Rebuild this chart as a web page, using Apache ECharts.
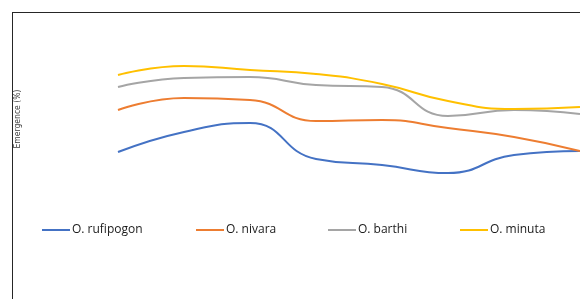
<!DOCTYPE html>
<html>
<head>
<meta charset="utf-8">
<script src="https://cdn.jsdelivr.net/npm/echarts@6/dist/echarts.min.js"></script>
<style>
  html, body { margin: 0; padding: 0; background: #fff; }
  #wrap { position: relative; width: 580px; height: 299px; overflow: hidden; }
  #frame {
    position: absolute; left: 12px; top: 12px; right: -2px; bottom: -2px;
    border-left: 1px solid #262626; border-top: 1px solid #262626;
  }
  #chart { position: absolute; left: 0; top: 0; width: 580px; height: 299px; }
</style>
</head>
<body>
<div id="wrap">
  <div id="frame"></div>
  <div id="chart"></div>
</div>
<script>
// sampling points (axis labels are cut off in the source)
var categories = ["1", "2", "3", "4", "5", "6", "7", "8"];

// emergence (%)
var rufipogon = [25.3, 38.7, 44.7, 20.7, 16.7, 11.3, 23.3, 26];
var nivara = [53.3, 61.3, 60, 46, 46.7, 41.3, 35.3, 26];
var barthi = [68.7, 74.7, 75.3, 70, 68.7, 49.3, 53.3, 50.7];
var minuta = [76.7, 82.7, 80, 77.3, 70.7, 59.3, 54, 55.3];

var names = ["O. rufipogon", "O. nivara", "O. barthi", "O. minuta"];
var colors = ["#4472c4", "#ed7d31", "#a5a5a5", "#ffc000"];
var values = [rufipogon, nivara, barthi, minuta];
var legendLeft = [42, 196, 328, 460];

var chart = echarts.init(document.getElementById("chart"));

var legends = names.map(function (n, i) {
  return {
    data: [n],
    left: legendLeft[i],
    top: 224,
    padding: 0,
    icon: "rect",
    itemWidth: 28,
    itemHeight: 2,
    itemGap: 2,
    textStyle: {
      color: "#1a1a1a",
      fontSize: 12,
      fontFamily: "Open Sans",
      padding: [0, 0, 0, -3]
    }
  };
});

var series = names.map(function (n, i) {
  return {
    name: n,
    type: "line",
    data: values[i],
    smooth: 0.5,
    symbol: "none",
    lineStyle: { color: colors[i], width: 2 },
    itemStyle: { color: colors[i] }
  };
});

chart.setOption({
  animation: false,
  legend: legends,
  grid: {
    left: 118,
    right: 0,
    top: 40,
    height: 150
  },
  xAxis: {
    type: "category",
    data: categories,
    boundaryGap: false,
    show: false
  },
  yAxis: {
    type: "value",
    min: 0,
    max: 100,
    name: "Emergence (%)",
    nameLocation: "middle",
    nameGap: 96,
    nameTextStyle: {
      color: "#404040",
      fontSize: 8.5,
      fontFamily: "DejaVu Sans Condensed, sans-serif",
      padding: [0, 8, 0, 0]
    },
    axisLine: { show: false },
    axisTick: { show: false },
    axisLabel: { show: false },
    splitLine: { show: false }
  },
  series: series
});
</script>
</body>
</html>
